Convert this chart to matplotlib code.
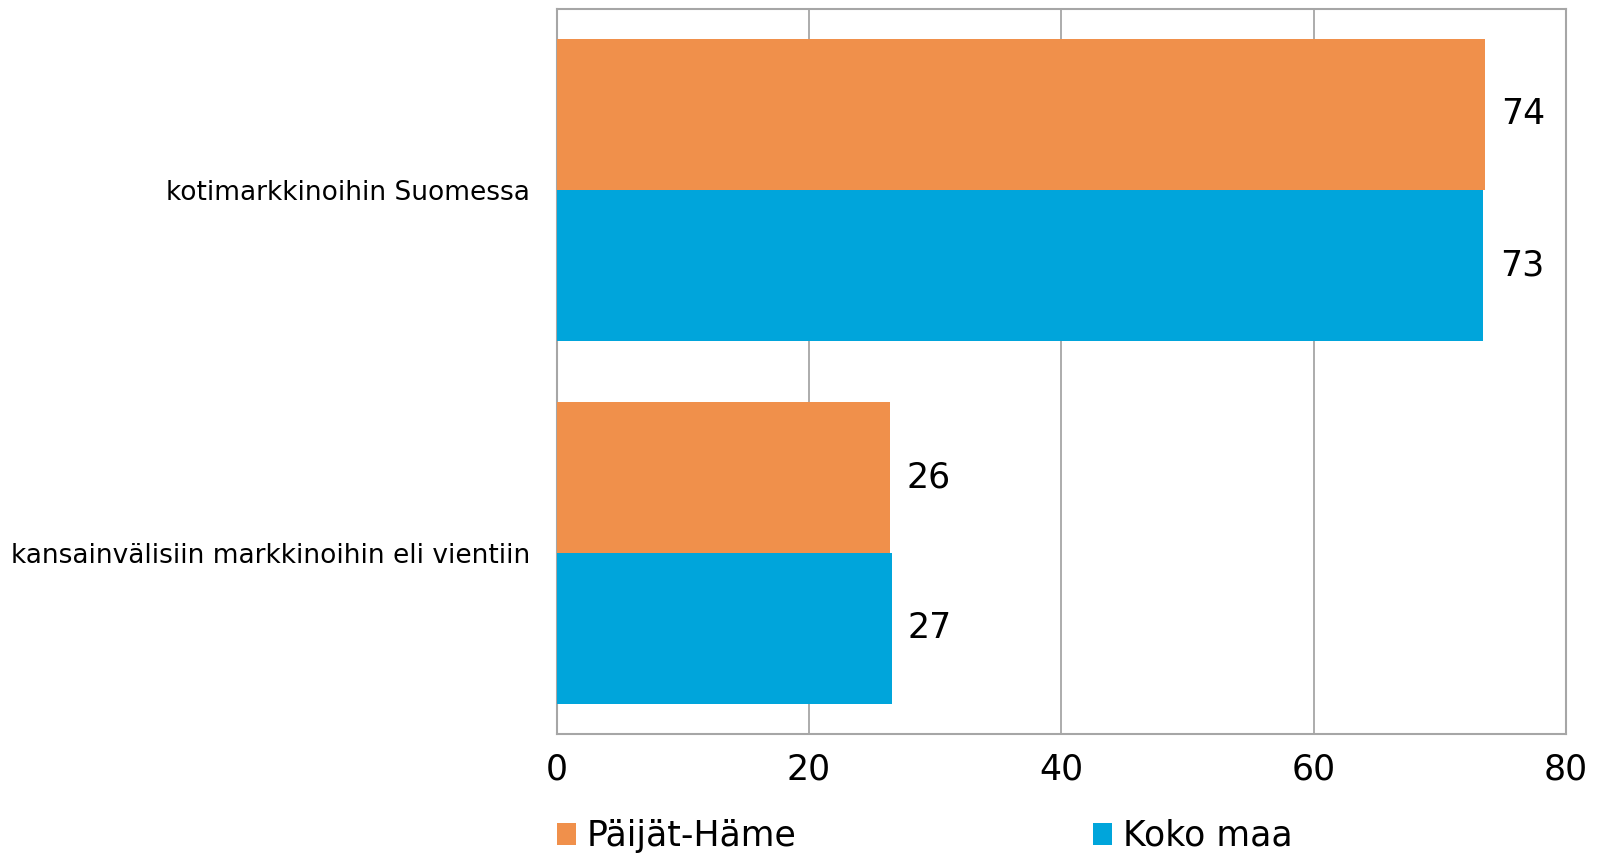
import matplotlib.pyplot as plt
import numpy as np

plt.rcParams['font.family'] = ['DejaVu Sans']

# Data
categories = ['kotimarkkinoihin Suomessa', 'kansainvälisiin markkinoihin eli vientiin']
series_names = ['Päijät-Häme', 'Koko maa']
paijat_hame = [73.55, 26.45]
koko_maa = [73.45, 26.55]
x_ticks = [0, 20, 40, 60, 80]

orange = '#F0904B'
blue = '#00A5DB'
grid_gray = '#A6A6A6'

fig = plt.figure(figsize=(16.04, 8.56), dpi=100)
ax = fig.add_axes([556.5 / 1604, 1 - 733.5 / 856, (1566 - 556.5) / 1604, (733.5 - 9) / 856])

y = np.arange(len(categories))
h = 0.415
bars1 = ax.barh(y - h / 2, paijat_hame, height=h, color=orange, label=series_names[0], zorder=3)
bars2 = ax.barh(y + h / 2, koko_maa, height=h, color=blue, label=series_names[1], zorder=3)

# value labels
for bars in (bars1, bars2):
    for b in bars:
        ax.text(b.get_width() + 1.3, b.get_y() + b.get_height() / 2, f"{b.get_width():.0f}",
                va='center', ha='left', fontsize=25)

ax.set_xlim(0, 80)
ax.set_ylim(1.497, -0.498)
ax.set_xticks(x_ticks)
ax.set_xticklabels([str(t) for t in x_ticks], fontsize=25)
ax.set_yticks(y)
ax.set_yticklabels(categories, fontsize=19)
ax.tick_params(length=0)
ax.tick_params(axis='x', pad=14)
ax.tick_params(axis='y', pad=19)
ax.grid(axis='x', color=grid_gray, linewidth=1.3, zorder=0)
for s in ax.spines.values():
    s.set_color(grid_gray)
    s.set_linewidth(1.5)

fig.legend(handles=[bars1, bars2], labels=series_names, loc='upper left',
           bbox_to_anchor=(557 / 1604, 1 - 819 / 856), ncol=2, frameon=False,
           fontsize=25, handlelength=0.55, handleheight=0.6, handletextpad=0.3,
           columnspacing=8.55, borderaxespad=0, borderpad=0)

fig.savefig('out.png', dpi=100)
